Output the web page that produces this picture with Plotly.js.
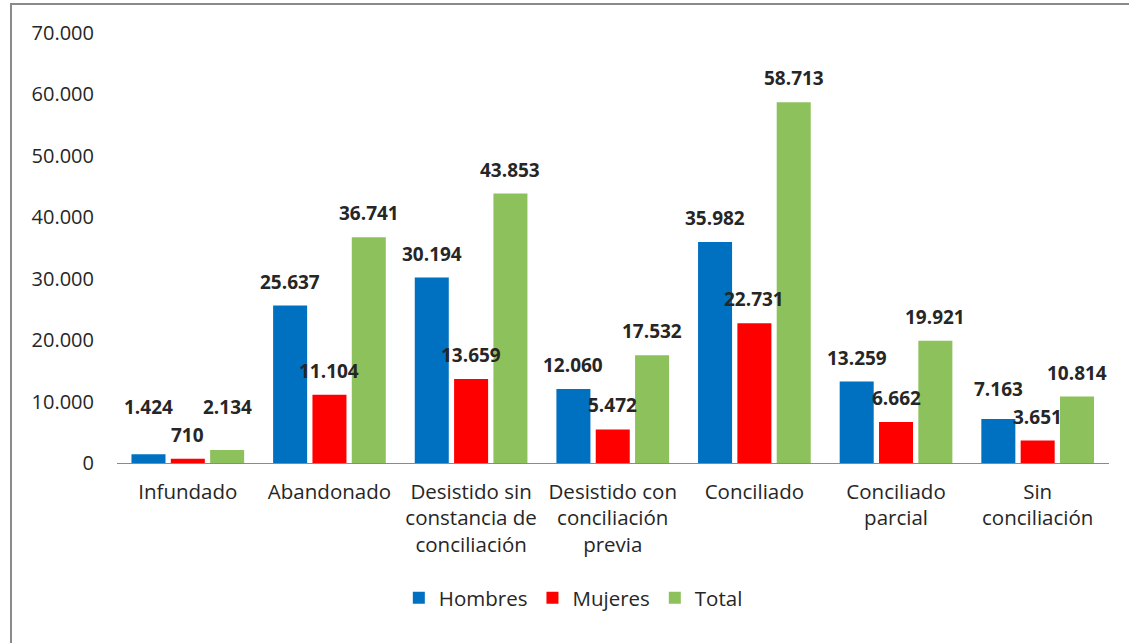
<!DOCTYPE html>
<html>
<head>
<meta charset="utf-8">
<script src="https://cdn.plot.ly/plotly-3.0.1.min.js"></script>
<style>
  html, body { margin: 0; padding: 0; background: #fff; overflow: hidden; width: 1129px; height: 643px; }
  #frame { position: absolute; left: 10px; top: 3px; width: 1119px; height: 640px; border-left: 2px solid #8a8a8a; border-top: 2px solid #8a8a8a; box-sizing: border-box; }
  #chart { position: absolute; left: 0; top: 0; width: 1129px; height: 643px; }
</style>
</head>
<body>
<div id="frame"></div>
<div id="chart"></div>
<script>
const categories = [
  "Infundado",
  "Abandonado",
  "Desistido sin<br>constancia de<br>conciliación",
  "Desistido con<br>conciliación<br>previa",
  "Conciliado",
  "Conciliado<br>parcial",
  "Sin<br>conciliación"
];
const seriesNames = ["Hombres", "Mujeres", "Total"];
const hombres = [1424, 25637, 30194, 12060, 35982, 13259, 7163];
const mujeres = [710, 11104, 13659, 5472, 22731, 6662, 3651];
const total = [2134, 36741, 43853, 17532, 58713, 19921, 10814];
const yTicks = [0, 10000, 20000, 30000, 40000, 50000, 60000, 70000];

function fmt(v) {
  return String(v).replace(/\B(?=(\d{3})+(?!\d))/g, ".");
}

const FONT = "Open Sans, sans-serif";
const TXT = "#262626";
const colors = ["#0070C0", "#FF0000", "#8DC15B"];
const BARGAP = 0.167;
const allSeries = [hombres, mujeres, total];

const W = 1129, H = 643;
const M = { l: 117, r: 20, t: 33, b: 180 };
const YMAX = 70000;

const data = allSeries.map((vals, s) => ({
  type: "bar",
  name: seriesNames[s],
  x: categories,
  y: vals,
  marker: { color: colors[s] },
  hoverinfo: "x+y"
}));

// value labels above each bar, nudged upward only when they would collide
const slot = (1 - BARGAP) / allSeries.length;
const plotW = W - M.l - M.r, plotH = H - M.t - M.b;
const pxPerCat = plotW / categories.length;
const pxPerUnit = plotH / YMAX;
const PAD = 9, LABEL_H = 28, CHAR_W = 10.6;
const annotations = [];
categories.forEach((c, i) => {
  const items = allSeries.map((vals, s) => {
    const off = (s - (allSeries.length - 1) / 2) * slot;
    const txt = fmt(vals[i]);
    return { x: i + off, v: vals[i], txt: txt, cx: (i + off) * pxPerCat, w: txt.length * CHAR_W };
  });
  const placed = [];
  items.slice().sort((a, b) => a.v - b.v).forEach(it => {
    let bottom = it.v * pxPerUnit + PAD;
    let moved = true;
    while (moved) {
      moved = false;
      for (const p of placed) {
        const hOver = Math.abs(it.cx - p.cx) < (it.w + p.w) / 2;
        const vOver = bottom < p.bottom + LABEL_H && bottom + LABEL_H > p.bottom;
        if (hOver && vOver) { bottom = p.bottom + LABEL_H; moved = true; }
      }
    }
    it.bottom = bottom;
    placed.push(it);
  });
  items.forEach(it => {
    annotations.push({
      x: it.x,
      y: it.v,
      xref: "x",
      yref: "y",
      text: it.txt,
      showarrow: false,
      xanchor: "center",
      yanchor: "bottom",
      yshift: it.bottom - it.v * pxPerUnit,
      font: { family: FONT, size: 19, color: TXT, weight: "bold" }
    });
  });
});

const layout = {
  width: W,
  height: H,
  margin: M,
  paper_bgcolor: "rgba(0,0,0,0)",
  plot_bgcolor: "rgba(0,0,0,0)",
  barmode: "group",
  bargap: BARGAP,
  bargroupgap: 0.135,
  font: { family: FONT, size: 20, color: TXT },
  annotations: annotations,
  xaxis: {
    showline: true,
    linecolor: "#8a8a8a",
    linewidth: 1,
    ticks: "",
    tickfont: { family: FONT, size: 20.5, color: TXT },
    ticklabelstandoff: 10,
    fixedrange: true
  },
  yaxis: {
    range: [0, YMAX],
    tickvals: yTicks,
    ticktext: yTicks.map(fmt),
    showgrid: false,
    zeroline: false,
    showline: false,
    ticks: "",
    ticklabelstandoff: 22,
    tickfont: { family: FONT, size: 20, color: TXT },
    fixedrange: true
  },
  showlegend: true,
  legend: {
    orientation: "h",
    x: 0.46,
    xanchor: "center",
    y: -0.314,
    yanchor: "middle",
    font: { family: FONT, size: 20.5, color: TXT },
    itemwidth: 30,
    traceorder: "normal"
  }
};

Plotly.newPlot("chart", data, layout, { displayModeBar: false, staticPlot: true });
</script>
</body>
</html>
